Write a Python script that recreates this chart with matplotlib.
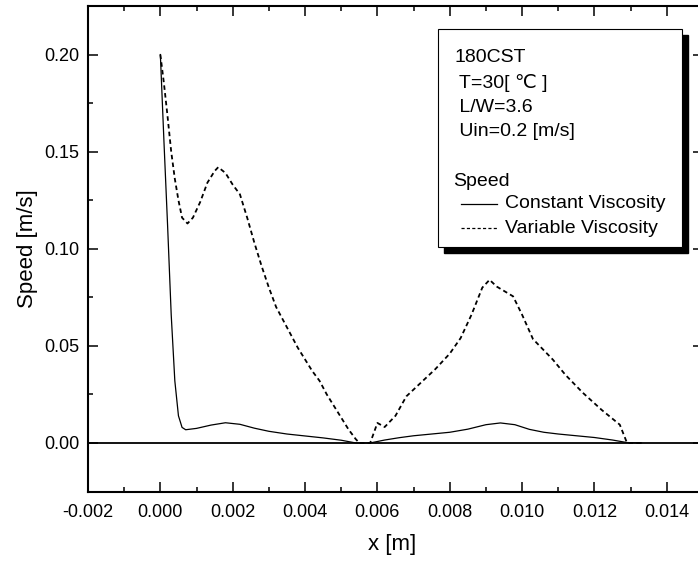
import matplotlib
matplotlib.use("Agg")
import matplotlib.pyplot as plt
from matplotlib.patches import Rectangle
from matplotlib.lines import Line2D
from matplotlib.ticker import MultipleLocator

plt.rcParams['font.family'] = ['Liberation Sans', 'DejaVu Sans']

# Constant viscosity speed profile
x_const = [0.0, 0.0001, 0.0002, 0.0003, 0.0004, 0.0005, 0.0006, 0.0007, 0.0010,
           0.0014, 0.0018, 0.0022, 0.0026, 0.0030, 0.0035, 0.0040, 0.0045,
           0.0050, 0.0054, 0.0058, 0.0062, 0.0066, 0.0070, 0.0075, 0.0080,
           0.0085, 0.0090, 0.0094, 0.0098, 0.0102, 0.0106, 0.0110, 0.0115,
           0.0120, 0.0125, 0.0129, 0.0133]
v_const = [0.200, 0.155, 0.112, 0.066, 0.032, 0.014, 0.008, 0.0068, 0.0075,
           0.0092, 0.0104, 0.0096, 0.0076, 0.0060, 0.0046, 0.0036, 0.0026,
           0.0014, 0.0, 0.0, 0.0015, 0.0027, 0.0037, 0.0046, 0.0055,
           0.0071, 0.0094, 0.0103, 0.0094, 0.0070, 0.0055, 0.0046, 0.0037,
           0.0028, 0.0015, 0.0002, 0.0]

# Variable viscosity speed profile
x_var = [0.0, 0.0001, 0.0002, 0.0003, 0.0004, 0.0005, 0.0006, 0.00075, 0.0009,
         0.0011, 0.0013, 0.0015, 0.0016, 0.0018, 0.0020, 0.0022, 0.0024,
         0.0026, 0.0028, 0.0030, 0.0032, 0.0034, 0.0036, 0.0038, 0.0040,
         0.0042, 0.0044, 0.0046, 0.0048, 0.0050, 0.0052, 0.0054, 0.0055,
         0.0058, 0.0060, 0.0062, 0.0065, 0.0068, 0.0072, 0.0076, 0.0080,
         0.0083, 0.0086, 0.0089, 0.0091, 0.0093, 0.00975, 0.0100, 0.0103,
         0.01085, 0.0112, 0.01168, 0.0122, 0.0127, 0.0129, 0.0133]
v_var = [0.200, 0.185, 0.168, 0.150, 0.136, 0.125, 0.116, 0.113, 0.116,
         0.124, 0.134, 0.140, 0.142, 0.139, 0.133, 0.128, 0.116,
         0.103, 0.091, 0.080, 0.070, 0.063, 0.056, 0.049, 0.043,
         0.037, 0.032, 0.025, 0.019, 0.013, 0.007, 0.002, 0.0,
         0.0, 0.0103, 0.0082, 0.014, 0.024, 0.031, 0.038, 0.046,
         0.054, 0.066, 0.080, 0.0840, 0.0805, 0.0755, 0.066, 0.0535,
         0.0429, 0.035, 0.0258, 0.017, 0.0094, 0.0, 0.0]

info_lines = ["180CST", " T=30[ ℃ ]", " L/W=3.6", " Uin=0.2 [m/s]"]
series_labels = ["Constant Viscosity", "Variable Viscosity"]

W, H = 698, 562
fig = plt.figure(figsize=(W / 100, H / 100), dpi=100)


def px(x, y):
    return x / W, 1 - y / H


ax = fig.add_axes([88 / W, (H - 491.5) / H, 615 / W, 485.5 / H])
ax.plot(x_const, v_const, color='black', lw=0.9)
ax.plot(x_var, v_var, color='black', lw=1.3, linestyle=(0, (2.5, 1.8)))
ax.axhline(0, color='black', lw=1.3)

ax.set_xlim(-0.002, 0.015)
ax.set_ylim(-0.025, 0.225)
ax.xaxis.set_major_locator(MultipleLocator(0.002))
ax.xaxis.set_minor_locator(MultipleLocator(0.001))
ax.yaxis.set_major_locator(MultipleLocator(0.05))
ax.yaxis.set_minor_locator(MultipleLocator(0.025))
ax.xaxis.set_major_formatter(plt.FuncFormatter(lambda v, p: f"{v:.3f}"))
ax.yaxis.set_major_formatter(plt.FuncFormatter(lambda v, p: f"{v:.2f}"))
ax.tick_params(which='both', direction='in', top=True, right=True,
               width=1.1, labelsize=13)
ax.tick_params(axis='x', pad=9)
ax.tick_params(axis='y', pad=6)
ax.tick_params(which='major', length=7.2)
ax.tick_params(which='minor', length=3.6)
for s in ax.spines.values():
    s.set_linewidth(1.5)

ax.set_xlabel("x [m]", fontsize=16)
ax.set_ylabel("Speed [m/s]", fontsize=16)
ax.xaxis.set_label_coords(0.495, -0.087)
ax.yaxis.set_label_coords(-0.082, 0.5)

# annotation box with shadow
bx0, by0 = px(438, 247)
bw, bh = 244 / W, 218 / H
fig.add_artist(Rectangle((bx0 + 6 / W, by0 - 6 / H), bw, bh, transform=fig.transFigure,
                         facecolor='black', edgecolor='black', zorder=5))
fig.add_artist(Rectangle((bx0, by0), bw, bh, transform=fig.transFigure,
                         facecolor='white', edgecolor='black', lw=0.8, zorder=6))

for i, t in enumerate(info_lines):
    fig.text(*px(454, 58 + 24.5 * i), t, fontsize=14, va='center', ha='left', zorder=7)
fig.text(*px(453, 182), "Speed", fontsize=14, va='center', ha='left', zorder=7)
styles = ['-', (0, (2.5, 1.8))]
for i, (lab, ls) in enumerate(zip(series_labels, styles)):
    yy = 204 + 24.5 * i
    x1, y1 = px(461, yy)
    x2, _ = px(497, yy)
    fig.add_artist(Line2D([x1, x2], [y1, y1], transform=fig.transFigure,
                          color='black', lw=0.9, linestyle=ls, zorder=7))
    fig.text(*px(505, yy), lab, fontsize=14, va='center', ha='left', zorder=7)

fig.savefig("out.png", dpi=100)
